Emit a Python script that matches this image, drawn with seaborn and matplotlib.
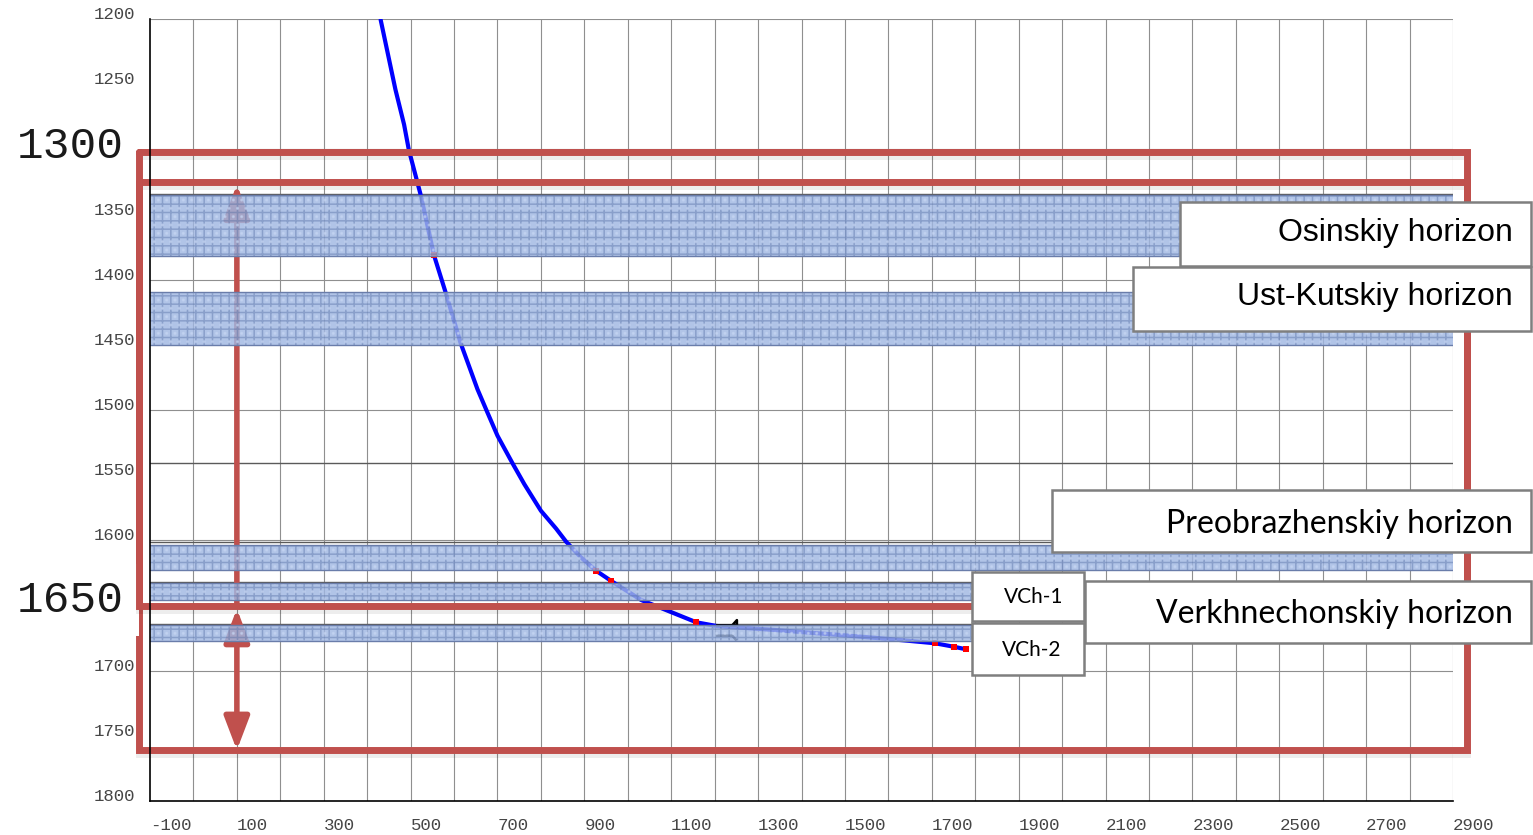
import numpy as np
import pandas as pd
import matplotlib
matplotlib.use("Agg")
import matplotlib.pyplot as plt
import seaborn as sns
from matplotlib.patches import Rectangle
from matplotlib.path import Path
import matplotlib.patheffects as pe

# ---------------- data ----------------
traj_offset = [431, 465, 485, 496, 523, 554, 581, 615, 654, 677, 700, 735, 762, 800,
               835, 858, 892, 927, 962, 1031, 1158, 1204, 1339, 1492, 1608, 1708,
               1750, 1779]
traj_depth = [1200.5, 1254, 1281, 1300.5, 1334.7, 1381.4, 1410.2, 1448.5, 1484.1,
              1502, 1519.7, 1541.1, 1557, 1577.3, 1591, 1601, 1613, 1623.3, 1631.2,
              1645.8, 1662.9, 1665.7, 1668.8, 1672.7, 1675.9, 1679, 1681.6, 1683.6]
survey_offset = [554, 927, 962, 1158, 1708, 1750, 1779]
survey_depth = [1381.4, 1623.3, 1631.2, 1662.9, 1679, 1681.6, 1683.6]

band_names = ["Osinskiy", "Ust-Kutskiy", "Preobrazhenskiy", "VCh-1", "VCh-2"]
band_top = [1335, 1409.5, 1603.6, 1633, 1665]
band_bottom = [1382, 1450, 1622.8, 1646, 1677]

grid_depths = [1200, 1300, 1400, 1500, 1600, 1700]
horizon_lines = [1334.5, 1541, 1601, 1632, 1664]

x_ticks = list(range(-100, 3000, 200))
y_ticks = list(range(1200, 1850, 50))
y_hidden_labels = [1300, 1650]

zone_outer = (1302, 1650)   # labelled 1300 / 1650
zone_inner = (1325, 1761)
zone_left, zone_right = -126, 2932
arrow_x = 100
kick_offset, kick_depth = [1227], [1668.8]

label_top = "1300"
label_bottom = "1650"
box_labels = ["Osinskiy horizon", "Ust-Kutskiy horizon", "Preobrazhenskiy horizon",
              "Verkhnechonskiy horizon", "VCh-1", "VCh-2"]

# ---------------- figure ----------------
W, H = 1533, 835
sns.set_theme(style="white")
plt.rcParams["hatch.linewidth"] = 1.1

fig = plt.figure(figsize=(W / 100, H / 100), dpi=100)
ax = fig.add_axes([150 / W, 1 - 801 / H, 1303 / W, 782 / H])
ax.set_xlim(-100, 2900)
ax.set_ylim(1800, 1200)

RED = "#C0504D"

# grid
for gx in range(0, 2901, 100):
    ax.axvline(gx, color="#8f8f8f", lw=0.8, zorder=0.5)
for gy in grid_depths:
    ax.axhline(gy, color="#8f8f8f", lw=0.8, zorder=0.5)
for gy in horizon_lines:
    ax.axhline(gy, color="#5a5a5a", lw=1.0, zorder=0.6)

# trajectory
df = pd.DataFrame({"offset": traj_offset, "depth": traj_depth})
sns.lineplot(data=df, x="offset", y="depth", sort=False, color="#0000FF",
             lw=3.0, ax=ax, zorder=2)
sv = pd.DataFrame({"offset": survey_offset, "depth": survey_depth})
sns.scatterplot(data=sv, x="offset", y="depth", color="#FF0000", marker="s",
                s=20, linewidth=0, ax=ax, zorder=2.2)

# kick-off marker
kick = Path([(-1, 0.5), (0.55, 0.5), (1, 0.5), (1, 1.0), (0.55, 0.5),
             (-1, -0.5), (0.55, -0.5), (1, -1.0)],
            [Path.MOVETO, Path.LINETO, Path.LINETO, Path.LINETO, Path.LINETO,
             Path.MOVETO, Path.LINETO, Path.LINETO])
ax.plot(kick_offset, kick_depth, marker=kick, markersize=15, mew=1.8,
        mec="black", mfc="none", ls="none", zorder=2.3)

# arrows (behind the bands)
arrow_style = dict(color=RED, lw=4.0, mutation_scale=48, shrinkA=0, shrinkB=0)
ax.annotate("", xy=(arrow_x, zone_inner[0] + 2), xytext=(arrow_x, zone_outer[1]),
            arrowprops=dict(arrowstyle="-|>,head_length=0.42,head_width=0.16",
                            **arrow_style),
            zorder=2.5, annotation_clip=False)
ax.annotate("", xy=(arrow_x, zone_outer[1] + 2.5), xytext=(arrow_x, zone_inner[1]),
            arrowprops=dict(arrowstyle="<|-|>,head_length=0.42,head_width=0.16",
                            **arrow_style),
            zorder=2.5, annotation_clip=False)

# horizon bands
for t, b in zip(band_top, band_bottom):
    ax.axhspan(t, b, facecolor="#A0B7E2", alpha=0.82, lw=0, zorder=3)
    ax.axhspan(t, b, facecolor="none", edgecolor="#4E68A0", hatch="++",
               lw=0, alpha=0.4, zorder=3.1)
    ax.axhspan(t, b, facecolor="none", edgecolor="#C9D8F4", hatch="..",
               lw=0, alpha=0.5, zorder=3.15)
    ax.axhline(t, color="#6A7DAA", lw=1.0, zorder=3.2)
    ax.axhline(b, color="#6A7DAA", lw=1.0, zorder=3.2)

# red zone rectangles
shadow = [pe.SimpleLineShadow(offset=(0, -3), shadow_color="black", alpha=0.07),
          pe.Normal()]


def rect_line(top, bot, z):
    ax.plot([zone_left, zone_right, zone_right, zone_left, zone_left],
            [top, top, bot, bot, top], color=RED, lw=5.0, clip_on=False,
            solid_joinstyle="miter", zorder=z, path_effects=shadow)


rect_line(*zone_inner, 4)
ax.text(70 / W, 1 - 600 / H, label_bottom, transform=fig.transFigure,
        ha="center", va="center", fontsize=32, family="Liberation Mono",
        color="#1a1a1a", zorder=4.5,
        bbox=dict(boxstyle="square,pad=0.35", fc="white", ec="none"))
rect_line(*zone_outer, 5)
ax.text(70 / W, 1 - 147 / H, label_top, transform=fig.transFigure,
        ha="center", va="center", fontsize=32, family="Liberation Mono",
        color="#1a1a1a", zorder=5)

# axes styling
ax.set_xticks(x_ticks)
ax.set_xticklabels([str(v) for v in x_ticks])
ax.set_yticks(y_ticks)
ax.set_yticklabels(["" if v in y_hidden_labels else str(v) for v in y_ticks])
ax.set_xlabel("")
ax.set_ylabel("")
for s in ["top", "right"]:
    ax.spines[s].set_visible(False)
for s in ["left", "bottom"]:
    ax.spines[s].set_color("black")
    ax.spines[s].set_linewidth(1.2)
    ax.spines[s].set_zorder(6)
ax.tick_params(axis="both", direction="in", length=7, width=1.2, color="black",
               labelsize=12.5, labelcolor="#454545")
ax.tick_params(axis="y", pad=11)
ax.tick_params(axis="x", pad=12)
for lab in ax.get_xticklabels():
    lab.set_family("Liberation Mono")
    lab.set_ha("left")
for lab in ax.get_yticklabels():
    lab.set_family("Liberation Mono")
    lab.set_va("baseline")

# label boxes (figure pixel coords)
def box(x0, y0, x1, y1):
    fig.add_artist(Rectangle((x0 / W, 1 - y1 / H), (x1 - x0) / W, (y1 - y0) / H,
                             transform=fig.transFigure, facecolor="white",
                             edgecolor="#7f7f7f", lw=1.8, zorder=10))


def label(x, y, s, size, family, ha="right"):
    fig.text(x / W, 1 - y / H, s, ha=ha, va="baseline", fontsize=size,
             family=family, color="black", zorder=11)


box(1180, 202, 1531, 266)
label(1513, 241.5, box_labels[0], 23, "Liberation Sans")
box(1133, 267, 1531, 331)
label(1513, 305, box_labels[1], 23, "Liberation Sans")
box(1052, 490, 1531, 552)
label(1513, 533, box_labels[2], 23, "Lato")
box(1085, 581, 1531, 643)
label(1513, 623, box_labels[3], 23, "Lato")
box(972, 572, 1084, 621)
label(1034, 603, box_labels[4], 15, "Lato", ha="center")
box(972, 623, 1084, 675)
label(1032, 656, box_labels[5], 15, "Lato", ha="center")

fig.savefig("out.png", dpi=100)
